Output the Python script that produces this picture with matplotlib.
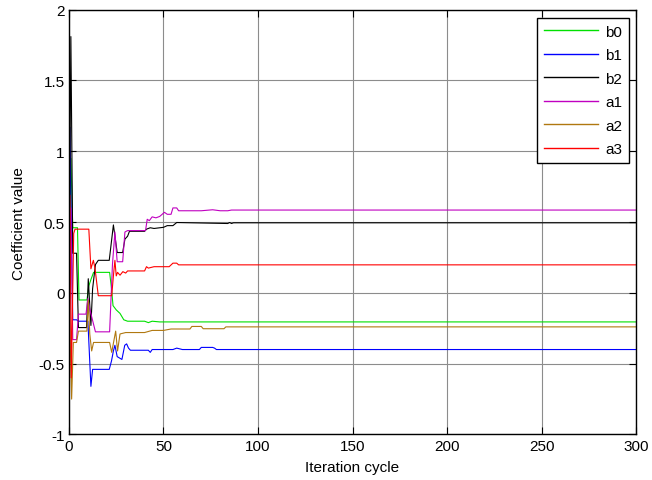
import matplotlib
matplotlib.use("Agg")
import matplotlib.pyplot as plt

plt.rcParams["font.family"] = ["Liberation Sans", "DejaVu Sans"]

# coefficient tracks: (iteration, value) breakpoints, held flat to the end
b0_x = [0, 1, 2, 4.5, 5.3, 9.5, 10.5, 11.5, 13, 21.5, 22.5, 23.3, 25, 27, 29, 31, 40, 42, 44, 48, 300]
b0_y = [0, 0.95, 0.46, 0.46, -0.05, -0.05, 0.05, 0.09, 0.145, 0.145, 0.03, -0.09, -0.12,
        -0.145, -0.19, -0.20, -0.20, -0.21, -0.20, -0.205, -0.205]

b1_x = [0, 0.5, 2, 4, 5, 10, 11.6, 12.5, 21.3, 22.5, 23.5, 24.3, 25.5, 28, 29.5, 30.5, 31.5,
        32.5, 42, 43, 44, 55, 57, 60, 69, 70, 76, 77, 78, 300]
b1_y = [0, 1.17, -0.19, -0.19, -0.20, -0.20, -0.66, -0.54, -0.54, -0.48, -0.41, -0.37, -0.45,
        -0.47, -0.37, -0.36, -0.39, -0.405, -0.405, -0.42, -0.40, -0.40, -0.39, -0.40, -0.40,
        -0.385, -0.385, -0.39, -0.40, -0.40]

b2_x = [0, 1, 2, 4, 5, 9.3, 10.2, 11.6, 12.5, 14, 15.5, 21.3, 23.5, 25.5, 28.4, 29.6, 31, 32,
        40, 41, 43, 45, 50, 52, 55, 57, 84, 85, 86, 87, 300]
b2_y = [0, 1.81, 0.28, 0.28, -0.245, -0.245, 0.10, -0.23, 0.03, 0.20, 0.23, 0.23, 0.48, 0.285,
        0.285, 0.38, 0.40, 0.435, 0.435, 0.45, 0.46, 0.455, 0.463, 0.475, 0.475, 0.497, 0.49,
        0.497, 0.49, 0.495, 0.495]

a1_x = [0, 1, 2, 4, 5, 9, 10, 11, 14, 21.5, 23, 24.3, 25.5, 28.4, 29.6, 31, 40.5, 41.4, 42.5,
        44, 46, 48, 50.5, 52, 54, 55, 57, 58, 70, 76, 80, 84, 86, 300]
a1_y = [0, 0.6, -0.33, -0.33, -0.15, -0.15, -0.04, -0.115, -0.275, -0.275, 0.2, 0.43, 0.22,
        0.22, 0.43, 0.44, 0.44, 0.52, 0.51, 0.537, 0.53, 0.54, 0.569, 0.555, 0.555, 0.60,
        0.60, 0.58, 0.58, 0.587, 0.58, 0.58, 0.585, 0.585]

a2_x = [0, 1.4, 2.3, 4, 5, 9.5, 10.2, 11, 12, 13, 21.5, 22.6, 24.7, 25.7, 27, 30, 40, 44, 50,
        54, 64, 65, 70, 71, 82, 83, 300]
a2_y = [0, -0.75, -0.35, -0.35, -0.27, -0.27, -0.05, -0.29, -0.41, -0.35, -0.35, -0.42, -0.27,
        -0.41, -0.29, -0.28, -0.28, -0.265, -0.265, -0.255, -0.255, -0.237, -0.237, -0.253,
        -0.253, -0.24, -0.24]

a3_x = [0, 0.5, 1.2, 2.5, 3.2, 10.5, 11.6, 12.9, 13.8, 15.5, 22.6, 23.5, 24.3, 25, 25.7, 27,
        28.5, 30, 31, 40, 41, 42, 45, 53, 55, 57, 58, 300]
a3_y = [0, 0.69, -0.6, 0.42, 0.45, 0.45, 0.17, 0.23, 0.17, -0.02, -0.02, 0.12, 0.23, 0.12,
        0.145, 0.125, 0.15, 0.14, 0.155, 0.155, 0.185, 0.175, 0.185, 0.185, 0.21, 0.21, 0.198,
        0.198]

series = [
    ("b0", b0_x, b0_y, "#00e000"),
    ("b1", b1_x, b1_y, "#0000ff"),
    ("b2", b2_x, b2_y, "#000000"),
    ("a1", a1_x, a1_y, "#c000c0"),
    ("a2", a2_x, a2_y, "#b07810"),
    ("a3", a3_x, a3_y, "#ff0000"),
]

x_ticks = [0, 50, 100, 150, 200, 250, 300]
y_ticks = [-1, -0.5, 0, 0.5, 1, 1.5, 2]
y_tick_labels = ["-1", "-0.5", "0", "0.5", "1", "1.5", "2"]

fig = plt.figure(figsize=(6.52, 4.81), dpi=100)
ax = fig.add_axes([0.1058, 0.0946, 0.8697, 0.8832])

for name, xs, ys, col in series:
    ax.plot(xs, ys, color=col, lw=0.8, label=name)

ax.set_xlim(0, 300)
ax.set_ylim(-1, 2)
ax.set_xticks(x_ticks)
ax.set_yticks(y_ticks)
ax.set_yticklabels(y_tick_labels)
ax.grid(True, color="0.55", lw=0.8)
ax.tick_params(direction="in", top=True, right=True, length=5, labelsize=11, pad=3)
for sp in ax.spines.values():
    sp.set_linewidth(1.0)

ax.set_xlabel("Iteration cycle", fontsize=11, labelpad=5)
ax.set_ylabel("Coefficient value", fontsize=11, labelpad=9)

leg = ax.legend(loc="upper right", bbox_to_anchor=(0.988, 0.9805), borderaxespad=0,
                fontsize=11, handlelength=3.5, fancybox=False, framealpha=1,
                edgecolor="black", borderpad=0.45, labelspacing=0.62, handletextpad=0.5)
leg.get_frame().set_linewidth(1.0)
for line in leg.get_lines():
    line.set_linewidth(1.0)

fig.savefig("out.png", dpi=100)
